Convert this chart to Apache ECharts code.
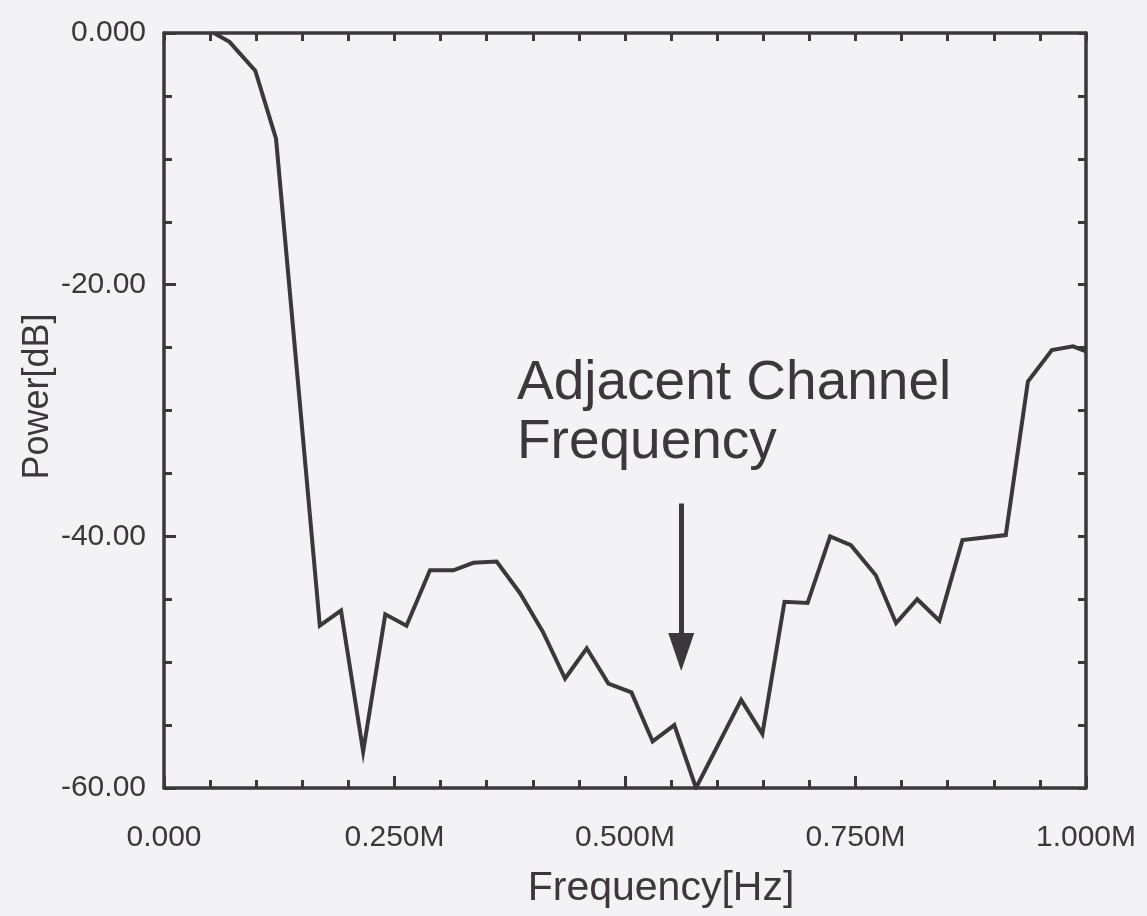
<!DOCTYPE html>
<html>
<head>
<meta charset="utf-8">
<script src="https://cdn.jsdelivr.net/npm/echarts@6/dist/echarts.min.js"></script>
<style>
html,body{margin:0;padding:0;background:#f3f3f5;}
#chart{width:1147px;height:916px;}
</style>
</head>
<body>
<div id="chart"></div>
<script>
// Frequency in MHz
var freqM = [0.054, 0.071, 0.099, 0.1215, 0.145, 0.169, 0.192, 0.216, 0.240, 0.263, 0.2885, 0.3138, 0.3355, 0.3608, 0.386, 0.411, 0.435, 0.4585, 0.482, 0.507, 0.530, 0.5535, 0.577, 0.626, 0.649, 0.673, 0.698, 0.7225, 0.745, 0.772, 0.794, 0.817, 0.841, 0.866, 0.913, 0.937, 0.963, 0.986, 1.0];
var powerDb = [0, -0.7, -3.0, -8.4, -27.5, -47.1, -45.9, -57.1, -46.2, -47.1, -42.7, -42.7, -42.1, -42.0, -44.5, -47.6, -51.3, -48.9, -51.7, -52.4, -56.3, -55.0, -60.0, -53.0, -55.7, -45.2, -45.3, -40.0, -40.7, -43.1, -46.9, -45.0, -46.7, -40.3, -39.9, -27.7, -25.2, -24.9, -25.3];
var xTickValues = [0, 0.25, 0.5, 0.75, 1.0];
var xTickLabels = ['0.000', '0.250M', '0.500M', '0.750M', '1.000M'];
var yTickValues = [0, -20, -40, -60];
var yTickLabels = ['0.000', '-20.00', '-40.00', '-60.00'];
var arrowX = 0.561;
var arrowFromDb = -37.4;
var arrowToDb = -49.2;
var annotationText = 'Adjacent Channel\nFrequency';

var ink = '#3b373b';
var font = 'Liberation Sans, Arial, Helvetica, sans-serif';

function lookup(vals, labels, v) {
  for (var i = 0; i < vals.length; i++) { if (Math.abs(vals[i] - v) < 1e-6) return labels[i]; }
  return '';
}

var data = freqM.map(function (f, i) { return [f, powerDb[i]]; });

var chart = echarts.init(document.getElementById('chart'), null, {renderer: 'canvas'});
chart.setOption({
  backgroundColor: '#f3f3f5',
  animation: false,
  grid: {left: 164, top: 33, right: 61, bottom: 128, containLabel: false},
  xAxis: [{
    type: 'value', min: 0, max: 1, interval: 0.25, position: 'bottom',
    name: 'Frequency[Hz]', nameLocation: 'middle', nameGap: 80, nameMoveOverlap: false,
    nameTextStyle: {fontFamily: font, fontSize: 41, color: ink, padding: [0, 0, 0, 72]},
    axisLine: {show: true, onZero: false, lineStyle: {color: ink, width: 3.5}},
    axisTick: {show: true, inside: true, length: 12, lineStyle: {color: ink, width: 3}},
    minorTick: {show: true, splitNumber: 5, length: 8, lineStyle: {color: ink, width: 3}},
    axisLabel: {margin: 35, fontFamily: font, fontSize: 30, color: ink,
      formatter: function (v) { return lookup(xTickValues, xTickLabels, v); }},
    splitLine: {show: false}, minorSplitLine: {show: false}
  }, {
    type: 'value', min: 0, max: 1, interval: 0.05, position: 'top',
    axisLine: {show: true, onZero: false, lineStyle: {color: ink, width: 3.5}},
    axisTick: {show: true, inside: true, length: 8, lineStyle: {color: ink, width: 3}},
    axisLabel: {show: false}, splitLine: {show: false}
  }],
  yAxis: [{
    type: 'value', min: -60, max: 0, interval: 20, position: 'left',
    name: 'Power[dB]', nameLocation: 'middle', nameGap: 108, nameRotate: 90, nameMoveOverlap: false,
    nameTextStyle: {fontFamily: font, fontSize: 36, color: ink, padding: [0, 0, 0, 28]},
    axisLine: {show: true, onZero: false, lineStyle: {color: ink, width: 3.5}},
    axisTick: {show: true, inside: true, length: 12, lineStyle: {color: ink, width: 3}},
    minorTick: {show: true, splitNumber: 4, length: 8, lineStyle: {color: ink, width: 3}},
    axisLabel: {margin: 18, fontFamily: font, fontSize: 30, color: ink,
      formatter: function (v) { return lookup(yTickValues, yTickLabels, v); }},
    splitLine: {show: false}, minorSplitLine: {show: false}
  }, {
    type: 'value', min: -60, max: 0, interval: 5, position: 'right',
    axisLine: {show: true, onZero: false, lineStyle: {color: ink, width: 3.5}},
    axisTick: {show: true, inside: true, length: 8, lineStyle: {color: ink, width: 3}},
    axisLabel: {show: false}, splitLine: {show: false}
  }],
  series: [{
    type: 'line', xAxisIndex: 0, yAxisIndex: 0, data: data,
    showSymbol: false, symbol: 'none', clip: true,
    lineStyle: {color: ink, width: 4, join: 'miter'},
    markLine: {
      silent: true, symbol: ['none', 'triangle'], symbolSize: [26, 38],
      lineStyle: {color: ink, width: 5, type: 'solid'},
      label: {show: false},
      data: [[{coord: [arrowX, arrowFromDb]}, {coord: [arrowX, arrowToDb]}]]
    }
  }],
  graphic: [{
    type: 'text', left: 517, top: 354,
    style: {text: annotationText, fontFamily: font, fontSize: 55, lineHeight: 59, fill: ink}
  }]
});
</script>
</body>
</html>
